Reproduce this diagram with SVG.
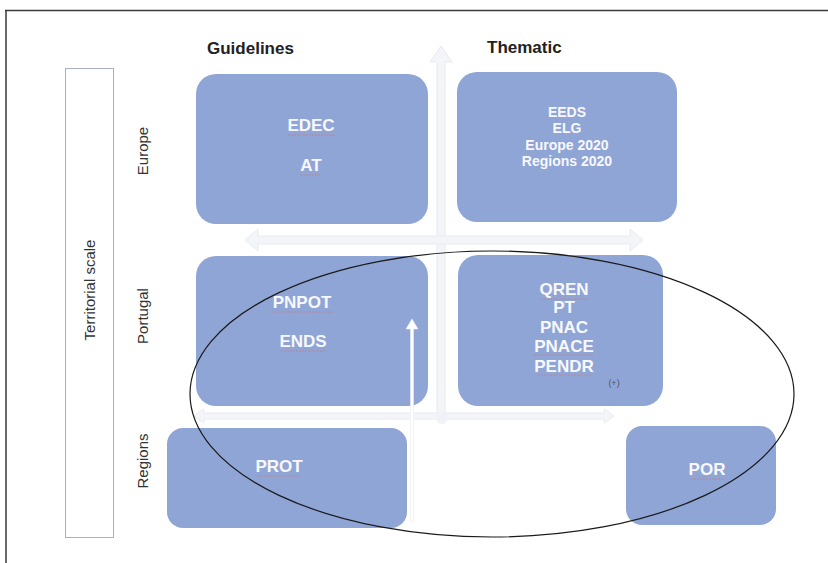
<svg xmlns="http://www.w3.org/2000/svg" width="828" height="563" viewBox="0 0 828 563">
  <style>
    .box { fill: #8FA5D6; }
    .boxlabel { font-family: "Liberation Sans", Arial, sans-serif; font-weight: bold; fill: #F8F8FC; text-anchor: middle; }
    .big { font-size: 17px; }
    .small { font-size: 14px; }
    .head { font-family: "Liberation Sans", Arial, sans-serif; font-weight: bold; font-size: 17px; fill: #222; }
    .scale { font-family: "Liberation Sans", Arial, sans-serif; font-size: 15px; fill: #333; text-anchor: middle; }
    .spell { stroke: #C77A7E; stroke-width: 1; stroke-dasharray: 2 1; opacity: 0.7; fill: none; }
    .faint { fill: #F4F5F9; stroke: #E8EAF1; stroke-width: 1; }
  </style>

  <rect width="828" height="563" fill="#FFFFFF"/>

  <!-- page frame (top and left edges) -->
  <path d="M5 10.5 H828 M6 10 V563" stroke="#3A3A3A" stroke-width="1.5" fill="none"/>

  <!-- faint background axes -->
  <g id="axes">
    <!-- vertical axis arrow -->
    <polygon class="faint" points="441,46 452,62 445,62 445,420 437,420 437,62 430,62"/>
    <!-- horizontal double arrow, upper -->
    <polygon class="faint" points="245,240 258,229 258,236 630,236 630,229 643,240 630,251 630,244 258,244 258,251"/>
    <!-- horizontal double arrow, lower -->
    <polygon class="faint" points="194,416 204,409 204,413 604,413 604,409 614,416 604,423 604,419 204,419 204,423"/>
    <circle cx="442" cy="418" r="6" fill="#F1F2F7"/>
  </g>

  <!-- territorial scale bar -->
  <g id="territorial-scale">
    <rect x="65.5" y="68.5" width="48" height="469" fill="none" stroke="#A9AFCA" stroke-width="1"/>
    <text class="scale" transform="translate(95 290) rotate(-90)">Territorial scale</text>
  </g>

  <!-- column and row headings -->
  <g id="headings">
    <text class="head" x="207" y="54">Guidelines</text>
    <text class="head" x="487" y="53">Thematic</text>
    <text class="scale" transform="translate(148 151) rotate(-90)">Europe</text>
    <text class="scale" transform="translate(148 316) rotate(-90)">Portugal</text>
    <text class="scale" transform="translate(148 461) rotate(-90)">Regions</text>
  </g>

  <g id="europe-guidelines">
    <rect class="box" x="196" y="74" width="232" height="150" rx="20"/>
    <text class="boxlabel big" x="311" y="131">EDEC</text>
    <text class="boxlabel big" x="311" y="171">AT</text>
    <path class="spell" d="M288 135 H335 M300 175 H322"/>
  </g>

  <g id="europe-thematic">
    <rect class="box" x="457" y="72" width="220" height="150" rx="20"/>
    <text class="boxlabel small" x="567" y="117">EEDS</text>
    <text class="boxlabel small" x="567" y="133">ELG</text>
    <text class="boxlabel small" x="567" y="150">Europe 2020</text>
    <text class="boxlabel small" x="567" y="166">Regions 2020</text>
  </g>

  <g id="portugal-guidelines">
    <rect class="box" x="196" y="256" width="232" height="150" rx="20"/>
    <text class="boxlabel big" x="302" y="308">PNPOT</text>
    <text class="boxlabel big" x="303" y="347">ENDS</text>
    <path class="spell" d="M273 312 H332 M281 351 H326"/>
  </g>

  <g id="portugal-thematic">
    <rect class="box" x="458" y="255" width="205" height="151" rx="20"/>
    <text class="boxlabel big" x="564" y="295">QREN</text>
    <text class="boxlabel big" x="564" y="313">PT</text>
    <text class="boxlabel big" x="564" y="333">PNAC</text>
    <text class="boxlabel big" x="564" y="352">PNACE</text>
    <text class="boxlabel big" x="564" y="372">PENDR</text>
    <text x="614" y="386" font-family="Liberation Sans, Arial, sans-serif" font-size="9" fill="#555" text-anchor="middle">(+)</text>
    <path class="spell" d="M541 299 H587 M534 355 H594 M538 375 H591"/>
  </g>

  <g id="regions-guidelines">
    <rect class="box" x="167" y="428" width="240" height="100" rx="16"/>
    <text class="boxlabel big" x="279" y="472">PROT</text>
    <path class="spell" d="M258 476 H300"/>
  </g>

  <g id="regions-thematic">
    <rect class="box" x="626" y="426" width="150" height="99" rx="16"/>
    <text class="boxlabel big" x="707" y="475">POR</text>
    <path class="spell" d="M691 479 H722"/>
  </g>

  <!-- connectors -->
  <g id="connectors">
    <!-- upward arrow from regional to national level -->
    <polygon points="412,319 418,329 413.5,329 413.5,522 410.5,522 410.5,329 406,329" fill="#FFFFFF" stroke="#ECEDF3" stroke-width="0.6"/>
    <!-- grouping ellipse -->
    <ellipse cx="492" cy="394" rx="302" ry="143" fill="none" stroke="#1A1A1A" stroke-width="1.2"/>
  </g>
</svg>
